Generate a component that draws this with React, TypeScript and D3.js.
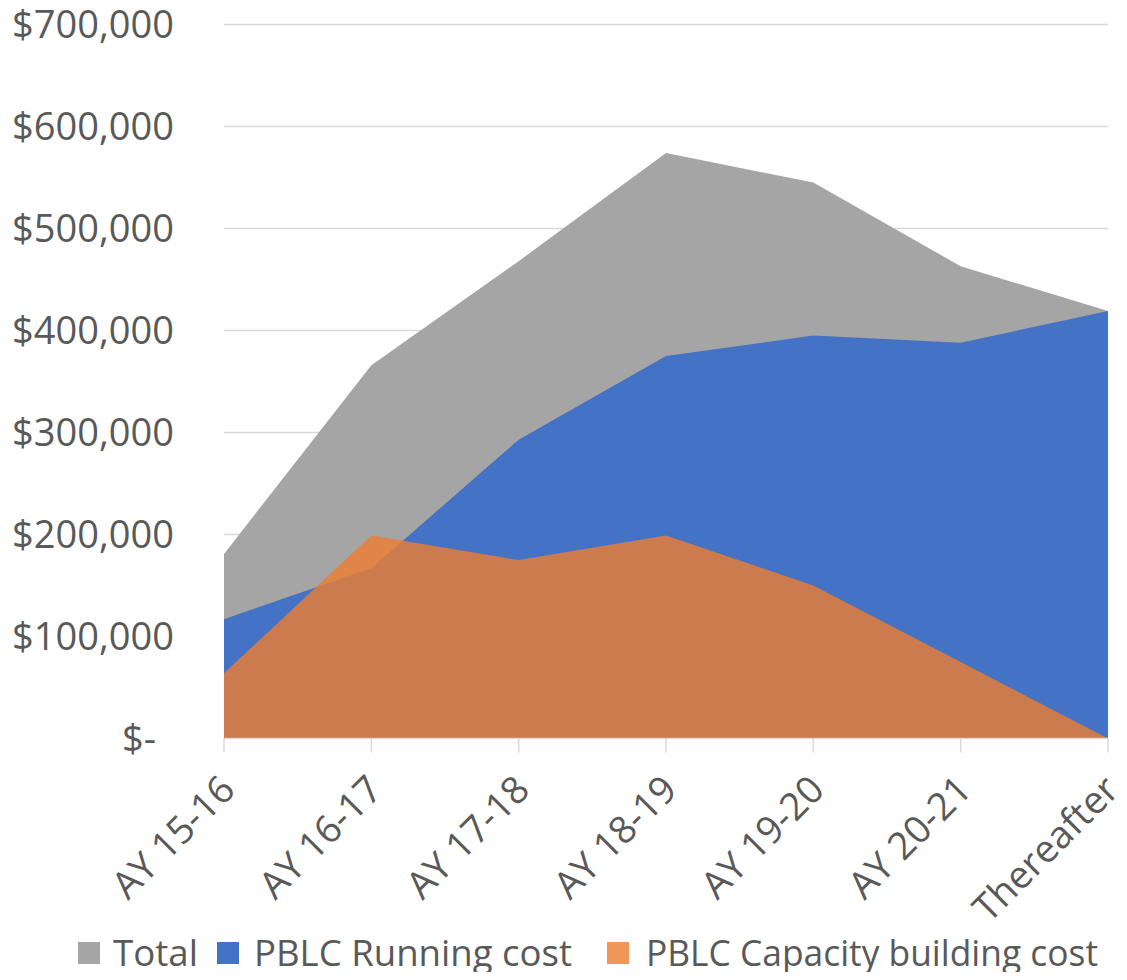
import React from 'react';
import * as d3 from 'd3';

const categories = ['AY 15-16', 'AY 16-17', 'AY 17-18', 'AY 18-19', 'AY 19-20', 'AY 20-21', 'Thereafter'];
const totalCost = [181000, 366000, 468000, 574000, 545000, 463000, 419000];
const runningCost = [117000, 167000, 293000, 375000, 395000, 388000, 419000];
const capacityCost = [64000, 199000, 175000, 199000, 150000, 75000, 0];
const yTicks = [0, 100000, 200000, 300000, 400000, 500000, 600000, 700000];

const series = [
  { name: 'Total', values: totalCost, color: '#A5A5A5', opacity: 1 },
  { name: 'PBLC Running cost', values: runningCost, color: '#4472C4', opacity: 1 },
  { name: 'PBLC Capacity building cost', values: capacityCost, color: '#ED7D31', opacity: 0.8 },
];

const W = 1127;
const H = 980;
const FONT = '"Open Sans", "Liberation Sans", sans-serif';
const TEXT = '#595959';

const App: React.FC = () => {
  const x = d3.scalePoint<string>().domain(categories).range([224, 1108]);
  const y = d3.scaleLinear().domain([0, 700000]).range([738.5, 24.5]);

  const area = d3
    .area<number>()
    .x((_, i) => x(categories[i]) as number)
    .y0(y(0))
    .y1(d => y(d));

  const fmt = (v: number) => (v === 0 ? '$-' : '$' + d3.format(',')(v));

  // legend swatch / text positions and text widths
  const legendItems = [
    { sx: 78, tx: 113, tw: 85 },
    { sx: 217, tx: 254, tw: 318 },
    { sx: 607, tx: 646, tw: 452 },
  ];

  return (
    <svg width={W} height={H} style={{ display: 'block', margin: -8 }} fontFamily={FONT}>
      <rect width={W} height={H} fill="#fff" />
      {/* gridlines */}
      {yTicks.slice(1).map(t => (
        <line key={t} x1={224} x2={1108} y1={y(t)} y2={y(t)} stroke="#D9D9D9" strokeWidth={1.5} />
      ))}
      {/* areas */}
      {series.map(s => (
        <path key={s.name} d={area(s.values) ?? ''} fill={s.color} fillOpacity={s.opacity} />
      ))}
      {/* x axis */}
      <line x1={224} x2={1108} y1={y(0)} y2={y(0)} stroke="#D9D9D9" strokeWidth={1.5} />
      {categories.map(c => (
        <line key={c} x1={x(c)} x2={x(c)} y1={y(0)} y2={y(0) + 14} stroke="#D9D9D9" strokeWidth={1.5} />
      ))}
      {/* y labels */}
      {yTicks.map(t => (
        <text
          key={t}
          x={t === 0 ? 156 : 174}
          y={y(t)}
          dy="0.36em"
          textAnchor="end"
          fontSize={38}
          fill={TEXT}
        >
          {fmt(t)}
        </text>
      ))}
      {/* x labels */}
      {categories.map(c => (
        <text
          key={c}
          transform={`translate(${(x(c) as number) + 13},${792}) rotate(-45)`}
          textAnchor="end"
          fontSize={38}
          fill={TEXT}
        >
          {c}
        </text>
      ))}
      {/* legend */}
      {series.map((s, i) => (
        <g key={s.name}>
          <rect
            x={legendItems[i].sx}
            y={942}
            width={22}
            height={22}
            fill={s.color}
            fillOpacity={s.opacity}
          />
          <text
            x={legendItems[i].tx}
            y={953}
            dy="0.36em"
            fontSize={37}
            fill={TEXT}
            textLength={legendItems[i].tw}
            lengthAdjust="spacingAndGlyphs"
          >
            {s.name}
          </text>
        </g>
      ))}
    </svg>
  );
};

export default App;
